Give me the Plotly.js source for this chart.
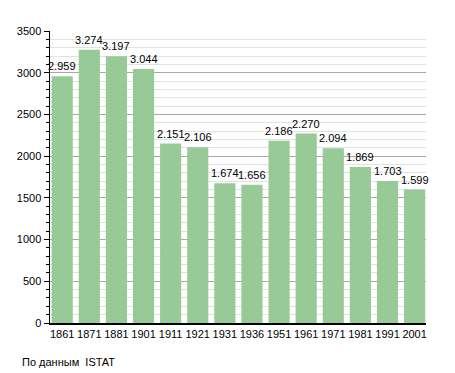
<!DOCTYPE html>
<html>
<head>
<meta charset="utf-8">
<script src="https://cdn.plot.ly/plotly-3.0.1.min.js"></script>
<style>html,body{margin:0;padding:0;background:#fff;}#chart{width:455px;height:373px;}</style>
</head>
<body>
<div id="chart"></div>
<script>
var years = ["1861","1871","1881","1901","1911","1921","1931","1936","1951","1961","1971","1981","1991","2001"];
var population = [2959,3274,3197,3044,2151,2106,1674,1656,2186,2270,2094,1869,1703,1599];
var yTicks = [0,500,1000,1500,2000,2500,3000,3500];
var sourceNote = "По данным  ISTAT";

function fmt(v){
  var s = String(v);
  return s.length > 3 ? s.slice(0, s.length-3) + "." + s.slice(s.length-3) : s;
}
var labels = population.map(fmt);

var trace = {
  type: "bar",
  x: years,
  y: population,
  marker: {color: "#98ca98", line: {width: 0}},
  hoverinfo: "none"
};

var valueNotes = years.map(function(yr, i){
  return {
    x: i, y: population[i], xref: "x", yref: "y",
    text: labels[i], showarrow: false,
    xanchor: "center", yanchor: "bottom", yshift: 2,
    font: {family: "Liberation Sans, Arial, sans-serif", size: 11, color: "#000"}
  };
});

var layout = {
  width: 455, height: 373,
  margin: {l: 50, r: 29, t: 31, b: 50},
  paper_bgcolor: "#fff", plot_bgcolor: "#fff",
  showlegend: false,
  bargap: 0.22,
  font: {family: "Liberation Sans, Arial, sans-serif", size: 11, color: "#000"},
  xaxis: {
    type: "category",
    range: [-0.45, 13.42],
    showline: true, linecolor: "#000", linewidth: 1.5,
    ticks: "", showgrid: false,
    tickfont: {size: 11, color: "#000"}
  },
  yaxis: {
    range: [0, 3500],
    tickvals: yTicks,
    ticktext: yTicks.map(String),
    showline: true, linecolor: "#000", linewidth: 1.5,
    ticks: "outside", ticklen: 5, tickcolor: "#000",
    gridcolor: "#a8a8a8", gridwidth: 1,
    zeroline: false,
    tickfont: {size: 11, color: "#000"},
    minor: {dtick: 100, ticks: "outside", ticklen: 3, tickcolor: "#000", showgrid: true, gridcolor: "#e2e2e2", gridwidth: 1}
  },
  annotations: valueNotes.concat([{
    text: sourceNote, xref: "paper", yref: "paper",
    x: (20-50)/376, y: -(362-323)/292, xanchor: "left", yanchor: "middle",
    showarrow: false, font: {size: 11, color: "#000"}
  }])
};

Plotly.newPlot("chart", [trace], layout, {staticPlot: true, displayModeBar: false});
</script>
</body>
</html>
